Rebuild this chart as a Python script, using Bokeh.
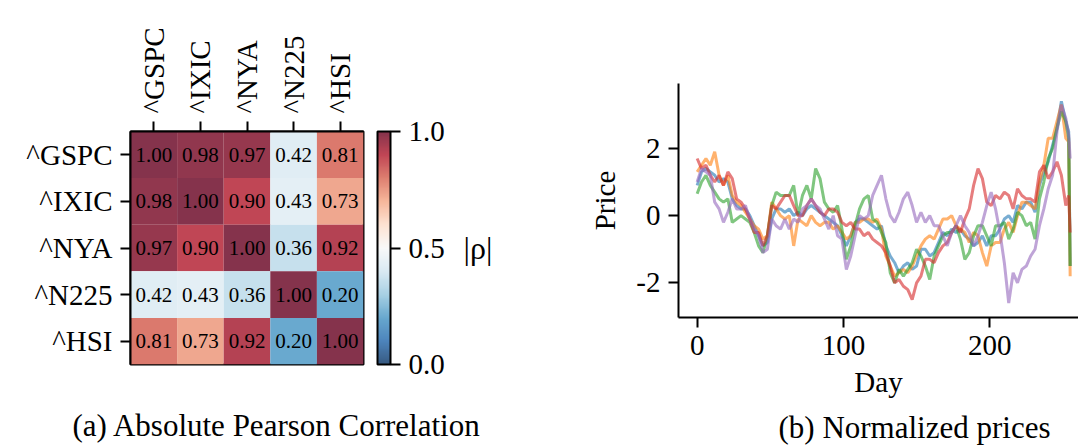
import numpy as np
from bokeh.plotting import figure
from bokeh.layouts import row
from bokeh.models import (ColumnDataSource, LinearColorMapper, ColorBar, FixedTicker,
                          Range1d, Title, PrintfTickFormatter, LinearAxis)
from bokeh.embed import file_html
from bokeh.resources import INLINE
from bokeh.core.properties import value

# ---------------- data ----------------
names = ["^GSPC", "^IXIC", "^NYA", "^N225", "^HSI"]
corr = [
    [1.00, 0.98, 0.97, 0.42, 0.81],
    [0.98, 1.00, 0.90, 0.43, 0.73],
    [0.97, 0.90, 1.00, 0.36, 0.92],
    [0.42, 0.43, 0.36, 1.00, 0.20],
    [0.81, 0.73, 0.92, 0.20, 1.00],
]
cbar_ticks = [0.0, 0.5, 1.0]

days = list(range(0, 253, 3)) + [254, 255]
gspc = [0.9, 1.3, 1.4, 1.3, 1.2, 1.0, 1.1, 1.0, 0.5, 0.3,
        0.2, 0.2, 0.0, -0.3, -0.6, -0.9, -0.8, -0.1, 0.2, 0.2,
        0.1, 0.2, 0.0, 0.1, 0.0, 0.2, 0.3, 0.2, 0.1, 0.0,
        -0.1, -0.2, -0.3, -0.6, -0.9, -0.6, -0.2, -0.1, -0.1, -0.2,
        -0.3, -0.4, -0.3, -0.9, -1.2, -1.4, -1.7, -1.5, -1.4, -1.6,
        -1.5, -1.0, -1.0, -1.2, -1.1, -0.8, -0.5, -0.6, -0.4, -0.5,
        -0.4, -0.6, -0.7, -0.9, -0.8, -0.6, -0.9, -0.6, -0.6, -0.4,
        -0.1, 0.0, -0.2, 0.3, 0.2, 0.4, 0.4, 0.1, 0.9, 1.3,
        1.6, 2.1, 2.6, 3.4, 2.8, 2.5, -1.5]
ixic = [1.3, 1.5, 1.7, 1.5, 1.9, 1.2, 0.9, 1.2, 0.6, 0.4,
        0.3, 0.1, -0.1, -0.3, -0.4, -0.7, -0.6, 0.4, 0.2, 0.0,
        -0.1, 0.0, -0.9, -0.1, -0.2, -0.3, 0.0, -0.2, -0.3, -0.2,
        -0.2, -0.4, -0.3, -0.5, -0.7, -0.6, -0.2, -0.2, -0.1, -0.1,
        -0.2, -0.1, -0.4, -1.2, -1.5, -1.8, -1.7, -1.6, -1.7, -1.5,
        -1.2, -0.9, -0.7, -0.6, -0.7, -0.4, -0.1, -0.1, 0.0, -0.3,
        -0.4, -0.5, -0.8, -0.5, -0.6, -1.1, -1.5, -0.9, -0.8, -0.8,
        -0.4, -0.2, -0.5, 0.0, 0.4, 0.4, 0.3, 0.2, 1.0, 1.5,
        2.3, 2.3, 2.8, 3.3, 2.3, 2.2, -1.8]
nya = [0.65, 1.0, 1.2, 0.9, 0.7, 0.5, 0.4, 0.5, -0.2, -0.1,
       0.0, -0.1, -0.2, -0.5, -0.9, -1.1, -0.6, 0.3, 0.7, 0.6,
       0.6, 0.6, 0.9, 0.0, 0.6, 0.9, 0.5, 1.4, 1.1, 0.4,
       0.2, 0.1, 0.3, -0.4, -1.3, -0.9, -0.3, 0.2, 0.5, 0.6,
       -0.1, -0.2, -0.5, -0.8, -1.7, -2.0, -1.6, -1.8, -1.6, -1.4,
       -1.0, -1.2, -1.5, -1.9, -1.2, -0.9, -0.6, -0.5, -0.5, -0.3,
       -0.7, -1.3, -1.1, -0.6, -0.3, -0.3, -0.6, -0.9, -0.3, -0.3,
       -0.2, -0.7, -0.4, 0.1, 0.0, -0.3, -0.2, -0.7, 0.5, 1.0,
       1.7, 2.0, 2.6, 3.1, 2.8, 2.3, -1.5]
n225 = [1.7, 1.4, 1.5, 1.2, 1.0, 1.2, 0.9, 1.3, 1.1, 0.5,
        0.4, 0.2, -0.1, -0.5, -0.5, -0.9, -0.6, 0.3, 0.2, 0.4,
        0.6, 0.6, 0.3, 0.0, 0.0, 0.3, 0.5, 0.3, 0.1, 0.0,
        0.2, 0.2, 0.1, -0.2, -0.3, -0.2, -0.4, -0.4, -0.6, -0.5,
        -0.7, -0.8, -0.9, -1.1, -1.5, -2.0, -1.9, -2.1, -2.2, -2.5,
        -2.0, -1.8, -1.3, -1.3, -1.4, -1.1, -0.9, -0.8, -0.5, -0.3,
        -0.5, -0.1, 0.2, 0.9, 1.4, 1.1, 0.4, 0.3, 0.6, 0.5,
        0.7, 0.6, 0.2, 0.8, 0.6, 0.5, 0.5, 0.4, 1.3, 1.5,
        1.1, 1.3, 1.6, 1.2, 0.3, 0.6, -0.5]
hsi = [1.0, 1.4, 1.3, 1.2, 0.4, 0.2, -0.2, 0.1, 0.5, 0.2,
       0.2, 0.3, -0.1, -0.4, -0.6, -1.1, -1.0, -0.1, -0.3, -0.4,
       -0.1, -0.4, -0.1, -0.2, 0.2, 0.3, 0.5, 0.3, 0.2, -0.1,
       -0.4, 0.0, -0.6, -0.7, -1.6, -1.2, -0.6, 0.0, -0.1, 0.0,
       0.6, 0.9, 1.2, 0.5, 0.0, -0.2, 0.1, 0.5, 0.7, 0.3,
       -0.2, 0.1, -0.2, 0.0, -0.3, -0.3, -0.6, -0.9, -0.5, -0.3,
       0.0, -0.3, -0.5, -0.9, -0.6, -0.2, 0.3, 0.7, 0.2, -0.5,
       -1.4, -2.6, -1.7, -2.0, -1.6, -1.5, -1.2, -1.0, -0.3, 0.2,
       0.8, 1.2, 2.5, 3.3, 2.9, 2.4, 1.7]
series = [gspc, ixic, nya, n225, hsi]
line_colors = ["#1f77b4", "#ff7f0e", "#2ca02c", "#d62728", "#9467bd"]
x_ticks = [0, 100, 200]
y_ticks = [-2, 0, 2]

FONT = "Liberation Serif"
FS = "29px"
CAP_FS = "31px"

# ---------------- palette (RdBu_r, alpha 0.8 on white) ----------------
rdbu = ["#053061", "#2166ac", "#4393c3", "#92c5de", "#d1e5f0", "#f7f7f7",
        "#fddbc7", "#f4a582", "#d6604d", "#b2182b", "#67001f"]
anch = np.array([[int(h[i:i + 2], 16) for i in (1, 3, 5)] for h in rdbu], float)
tt = np.linspace(0, 1, 256)
pos = np.linspace(0, 1, len(rdbu))
rgb = np.stack([np.interp(tt, pos, anch[:, k]) for k in range(3)], 1)
rgb = 0.8 * rgb + 0.2 * 255
palette = ["#%02x%02x%02x" % tuple(int(round(v)) for v in c) for c in rgb]
mapper = LinearColorMapper(palette=palette, low=0, high=1)


def style_axis(ax):
    ax.axis_line_color = "black"
    ax.axis_line_width = 2
    ax.major_tick_line_width = 2
    ax.major_tick_line_color = "black"
    ax.major_tick_out = 10
    ax.major_tick_in = 0
    ax.minor_tick_line_color = None
    ax.major_label_text_font = FONT
    ax.major_label_text_font_size = FS
    ax.major_label_text_color = "black"
    ax.major_label_standoff = 8
    ax.axis_label_text_font = FONT
    ax.axis_label_text_font_size = FS
    ax.axis_label_text_font_style = "normal"
    ax.axis_label_text_color = "black"


# ---------------- heatmap ----------------
xs, ys, vs, ts = [], [], [], []
for i in range(len(names)):
    for j in range(len(names)):
        xs.append(j); ys.append(i); vs.append(corr[i][j]); ts.append("%.2f" % corr[i][j])
hsrc = ColumnDataSource(dict(x=xs, y=ys, v=vs, t=ts))

p1 = figure(frame_width=233, frame_height=233, x_range=Range1d(-0.5, 4.5), y_range=Range1d(4.5, -0.5),
            x_axis_location="above", output_backend="svg", toolbar_location=None,
            min_border_left=130, min_border_right=197, min_border_top=131, min_border_bottom=81,
            frame_align=False)
p1.rect(x="x", y="y", width=1, height=1, source=hsrc,
        fill_color={"field": "v", "transform": mapper}, line_color=None)
p1.text(x="x", y="y", text="t", source=hsrc, text_align="center", text_baseline="middle",
        text_font=value(FONT), text_font_size="21px", text_color="black")
p1.grid.visible = False
p1.outline_line_color = "black"
p1.outline_line_width = 2
p1.xaxis.ticker = FixedTicker(ticks=list(range(len(names))))
p1.yaxis.ticker = FixedTicker(ticks=list(range(len(names))))
p1.xaxis.major_label_overrides = {i: n for i, n in enumerate(names)}
p1.yaxis.major_label_overrides = {i: n for i, n in enumerate(names)}
p1.xaxis.major_label_orientation = np.pi / 2
style_axis(p1.xaxis)
style_axis(p1.yaxis)

cb = ColorBar(color_mapper=mapper, width=13, height=233, location=(14, 0),
              ticker=FixedTicker(ticks=cbar_ticks), formatter=PrintfTickFormatter(format="%.1f"),
              major_label_text_font=FONT, major_label_text_font_size=FS,
              major_label_text_color="black",
              major_tick_out=10, major_tick_in=0, major_tick_line_color="black",
              major_tick_line_width=2, minor_tick_line_color=None,
              bar_line_color="black", bar_line_width=2,
              padding=0, margin=0, label_standoff=8, background_fill_color=None)
p1.add_layout(cb, "right")

rho_axis = LinearAxis(ticker=FixedTicker(ticks=[]), axis_label="|ρ|",
                      axis_label_orientation="horizontal",
                      axis_line_color=None, major_tick_line_color=None, minor_tick_line_color=None,
                      major_tick_out=0, major_tick_in=0, major_label_standoff=0,
                      major_label_text_font_size="0px", axis_label_standoff=16,
                      axis_label_text_font=FONT, axis_label_text_font_size="32px",
                      axis_label_text_font_style="normal", axis_label_text_color="black")
p1.add_layout(rho_axis, "right")

cap1 = Title(text="(a) Absolute Pearson Correlation", align="left", offset=-58, standoff=82,
             text_font=FONT, text_font_size=CAP_FS, text_font_style="normal", text_color="black")
p1.add_layout(cap1, "below")

# ---------------- line chart ----------------
p2 = figure(frame_width=400, frame_height=234, x_range=Range1d(-12.75, 260.7),
            y_range=Range1d(-3.03, 3.93), output_backend="svg", toolbar_location=None,
            min_border_left=118, min_border_right=0, min_border_top=83, min_border_bottom=128,
            frame_align=False)
for s, c in zip(series, line_colors):
    p2.line(days, s, line_color=c, line_width=3, line_alpha=0.6)
p2.grid.visible = False
p2.outline_line_color = None
p2.xaxis.ticker = FixedTicker(ticks=x_ticks)
p2.yaxis.ticker = FixedTicker(ticks=y_ticks)
p2.yaxis.major_label_overrides = {t: str(t) for t in y_ticks}
p2.xaxis.axis_label = "Day"
p2.yaxis.axis_label = "Price"
style_axis(p2.xaxis)
style_axis(p2.yaxis)
p2.xaxis.axis_label_standoff = 8
p2.yaxis.axis_label_standoff = 12
cap2 = Title(text="(b) Normalized prices", align="left", offset=100, standoff=14,
             text_font=FONT, text_font_size=CAP_FS, text_font_style="normal", text_color="black")
p2.add_layout(cap2, "below")

layout = row(p1, p2, spacing=0)
open("out.html", "w").write(file_html(layout, INLINE))
